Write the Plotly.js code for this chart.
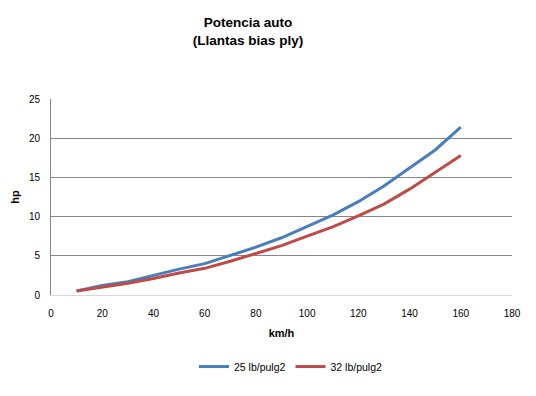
<!DOCTYPE html>
<html>
<head>
<meta charset="utf-8">
<script src="https://cdn.plot.ly/plotly-3.0.1.min.js"></script>
<style>html,body{margin:0;padding:0;background:#fff;}#chart{width:536px;height:396px;}</style>
</head>
<body>
<div id="chart"></div>
<script>
const speeds = [10, 20, 30, 40, 50, 60, 70, 80, 90, 100, 110, 120, 130, 140, 150, 160];
const hp25 = [0.5, 1.2, 1.7, 2.5, 3.3, 4.0, 5.0, 6.1, 7.3, 8.7, 10.2, 11.9, 13.9, 16.2, 18.5, 21.4];
const hp32 = [0.5, 1.0, 1.5, 2.1, 2.8, 3.4, 4.3, 5.3, 6.3, 7.5, 8.7, 10.1, 11.6, 13.5, 15.6, 17.8];
const seriesNames = ['25 lb/pulg2', '32 lb/pulg2'];
const xTicks = [0, 20, 40, 60, 80, 100, 120, 140, 160, 180];
const yTicks = [0, 5, 10, 15, 20, 25];

const font = 'Liberation Sans, Arial, sans-serif';
const traces = [
  {x: speeds, y: hp25, name: seriesNames[0], type: 'scatter', mode: 'lines',
   line: {color: '#4A7EBB', width: 3}},
  {x: speeds, y: hp32, name: seriesNames[1], type: 'scatter', mode: 'lines',
   line: {color: '#BE4B48', width: 3}}
];
const layout = {
  width: 536, height: 396,
  margin: {l: 51, r: 24, t: 99, b: 101},
  paper_bgcolor: '#fff', plot_bgcolor: '#fff',
  font: {family: font, size: 10, color: '#000'},
  title: {text: '<b>Potencia auto</b><br><b>(Llantas bias ply)</b>', x: 248/536, xref: 'container', xanchor: 'center',
          y: 1 - 27/396, yref: 'container', yanchor: 'top', font: {family: font, size: 13.5, color: '#000'}},
  xaxis: {range: [0, 180], tickvals: xTicks, ticktext: xTicks.map(String), showgrid: false,
          zeroline: false, showline: true, linecolor: '#d9d9d9', linewidth: 1,
          ticks: 'outside', ticklen: 9, tickcolor: 'rgba(0,0,0,0)',
          title: {text: '<b>km/h</b>', standoff: 11, font: {family: font, size: 11, color: '#000'}}},
  yaxis: {range: [0, 25], tickvals: yTicks, ticktext: yTicks.map(String), showgrid: true,
          gridcolor: '#868686', gridwidth: 1, zeroline: false, showline: true, linecolor: '#868686', linewidth: 1,
          ticks: 'outside', ticklen: 8, tickcolor: 'rgba(0,0,0,0)',
          title: {text: '<b>hp</b>', standoff: 7, font: {family: font, size: 11, color: '#000'}}},
  showlegend: true,
  legend: {orientation: 'h', x: 279/536, xanchor: 'center', y: -0.365, yanchor: 'middle',
           font: {family: font, size: 10.5, color: '#000'}, itemwidth: 30, tracegroupgap: 0}
};
Plotly.newPlot('chart', traces, layout, {displayModeBar: false, staticPlot: true});
</script>
</body>
</html>
